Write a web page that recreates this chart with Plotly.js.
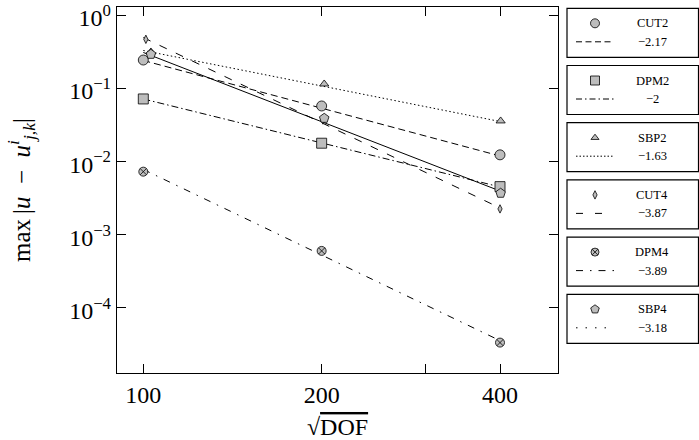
<!DOCTYPE html>
<html>
<head>
<meta charset="utf-8">
<script src="https://cdn.plot.ly/plotly-3.0.1.min.js"></script>
<style>html,body{margin:0;padding:0;background:#fff;}#chart{width:699px;height:440px;}</style>
</head>
<body>
<div id="chart"></div>
<script>
// ---- data ----
const names = ['CUT2', 'DPM2', 'SBP2', 'CUT4', 'DPM4', 'SBP4'];
const slopeLabels = ['\u22122.17', '\u22122', '\u22121.63', '\u22123.87', '\u22123.89', '\u22123.18'];

const xCUT2 = [100, 200, 400];
const yCUT2 = [0.242, 0.0569, 0.0122];
const xDPM2 = [100, 200, 400];
const yDPM2 = [0.0710, 0.0176, 0.00448];
const xSBP2 = [103, 202, 401];
const ySBP2 = [0.312, 0.1138, 0.0355];
const xCUT4 = [101, 201, 400];
const yCUT4 = [0.465, 0.0366, 0.00222];
const xDPM4 = [100, 200, 400];
const yDPM4 = [0.00718, 0.000591, 0.0000329];
const xSBP4 = [103, 202, 401];
const ySBP4 = [0.290, 0.0386, 0.00364];

// fitted convergence lines (end values)
const fitX = [100, 400];
const fitCUT2 = [0.2386, 0.01178];
const fitDPM2 = [0.0710, 0.00444];
const fitSBP2 = [0.327, 0.0349];
const fitCUT4 = [0.491, 0.00229];
const fitDPM4 = [0.00770, 0.0000350];
const fitSBP4 = [0.307, 0.00391];

const xTickVals = [100, 200, 300, 400];
const xTickText = ['100', '200', '', '400'];
const yTickVals = [1, 0.1, 0.01, 0.001, 0.0001];
const yTickText = ['10<sup>0</sup>', '10<sup>\u22121</sup>', '10<sup>\u22122</sup>', '10<sup>\u22123</sup>', '10<sup>\u22124</sup>'];

// ---- styles ----
const xs = [xCUT2, xDPM2, xSBP2, xCUT4, xDPM4, xSBP4];
const ys = [yCUT2, yDPM2, ySBP2, yCUT4, yDPM4, ySBP4];
const fits = [fitCUT2, fitDPM2, fitSBP2, fitCUT4, fitDPM4, fitSBP4];
const symbols = ['circle', 'square', 'triangle-up', 'diamond-tall', 'circle-x', 'pentagon'];
const sizes = [10, 10, 8, 6, 9, 10];
const plotDash = ['7px,4px', '7px,3px,1.5px,3px', '1.5px,2.5px', '8px,10px', '7px,7px,1.5px,7px', 'solid'];
const legDash = ['6px,3.5px', '6px,3px,1.5px,3px', '1.5px,2px', '7px,12px', '7px,7px,1.5px,7px', '1.5px,8px'];
const FILL = '#bdbdbd';
const FONT = 'Liberation Serif, Times New Roman, serif';
const W = 699, H = 440;

const traces = [];
// fit lines
for (let i = 0; i < 6; i++) {
  traces.push({
    x: fitX, y: fits[i], xaxis: 'x', yaxis: 'y', mode: 'lines',
    line: {color: 'black', width: 1, dash: plotDash[i]},
    showlegend: false, hoverinfo: 'skip'
  });
}
// markers
for (let i = 0; i < 6; i++) {
  traces.push({
    x: xs[i], y: ys[i], xaxis: 'x', yaxis: 'y', mode: 'markers',
    marker: {symbol: symbols[i], size: sizes[i], color: FILL, line: {color: 'black', width: 0.8}},
    showlegend: false, name: names[i]
  });
}

// ---- custom boxed legend (pixel coordinates on an overlay axis) ----
const shapes = [];
const annotations = [];
const boxLeft = 567, boxRight = 698.5, boxTop0 = 8.3, boxPitch = 57.2, boxH = 49;
for (let i = 0; i < 6; i++) {
  const T = boxTop0 + i * boxPitch;
  shapes.push({type: 'rect', xref: 'x2', yref: 'y2', x0: boxLeft, x1: boxRight, y0: T, y1: T + boxH,
    line: {color: 'black', width: 1.2}, fillcolor: 'rgba(0,0,0,0)'});
  traces.push({
    x: [595], y: [T + 15], xaxis: 'x2', yaxis: 'y2', mode: 'markers',
    marker: {symbol: symbols[i], size: (i === 3 ? 6 : sizes[i] - 1), color: FILL, line: {color: 'black', width: 0.8}},
    showlegend: false, hoverinfo: 'skip'
  });
  traces.push({
    x: [576, 614], y: [T + 33.5, T + 33.5], xaxis: 'x2', yaxis: 'y2', mode: 'lines',
    line: {color: 'black', width: 1, dash: legDash[i]},
    showlegend: false, hoverinfo: 'skip'
  });
  annotations.push({xref: 'paper', yref: 'paper', x: 652 / W, y: 1 - (T + 15) / H, text: names[i], showarrow: false,
    xanchor: 'center', yanchor: 'middle', font: {family: FONT, size: 12.5, color: 'black'}});
  annotations.push({xref: 'paper', yref: 'paper', x: 652 / W, y: 1 - (T + 33.5) / H, text: slopeLabels[i], showarrow: false,
    xanchor: 'center', yanchor: 'middle', font: {family: FONT, size: 12.5, color: 'black'}});
}

const pxPerDec = 356.7 / Math.log10(4);
const layout = {
  width: W, height: H,
  margin: {l: 0, r: 0, t: 0, b: 0},
  paper_bgcolor: 'white', plot_bgcolor: 'rgba(0,0,0,0)',
  font: {family: FONT, color: 'black', size: 22},
  showlegend: false,
  xaxis: {
    type: 'log', domain: [117 / W, 558 / W],
    range: [2 - 26.3 / pxPerDec, Math.log10(400) + 58 / pxPerDec],
    tickvals: xTickVals, ticktext: xTickText,
    ticks: 'inside', ticklen: 9, tickwidth: 1, tickcolor: 'black',
    showline: true, linecolor: 'black', linewidth: 1.2, mirror: 'ticks',
    showgrid: false, zeroline: false, ticklabeloverflow: 'allow',
    tickfont: {family: FONT, size: 24},
    title: {text: '\u221A<span style="text-decoration:overline">DOF</span>', font: {family: FONT, size: 24}, standoff: 23},
    anchor: 'y', fixedrange: true
  },
  yaxis: {
    type: 'log', domain: [67 / H, 433 / H],
    range: [-4.899, 0.1095],
    tickvals: yTickVals, ticktext: yTickText,
    ticks: 'inside', ticklen: 9, tickwidth: 1, tickcolor: 'black',
    showline: true, linecolor: 'black', linewidth: 1.2, mirror: 'ticks',
    showgrid: false, zeroline: false, ticklabeloverflow: 'allow',
    ticklabelshift: 3,
    tickfont: {family: FONT, size: 24},
    title: {text: 'max\u2009|<i>u</i>\u2002\u2212\u2002<i>u</i><sup><i>i</i></sup><sub><i>j,k</i></sub>|', font: {family: FONT, size: 25}, standoff: 31},
    anchor: 'x', fixedrange: true
  },
  xaxis2: {domain: [0, 1], range: [0, W], anchor: 'y2', visible: false, fixedrange: true},
  yaxis2: {domain: [0, 1], range: [H, 0], anchor: 'x2', visible: false, fixedrange: true},
  shapes: shapes,
  annotations: annotations
};

Plotly.newPlot('chart', traces, layout, {displayModeBar: false, staticPlot: true});
</script>
</body>
</html>
